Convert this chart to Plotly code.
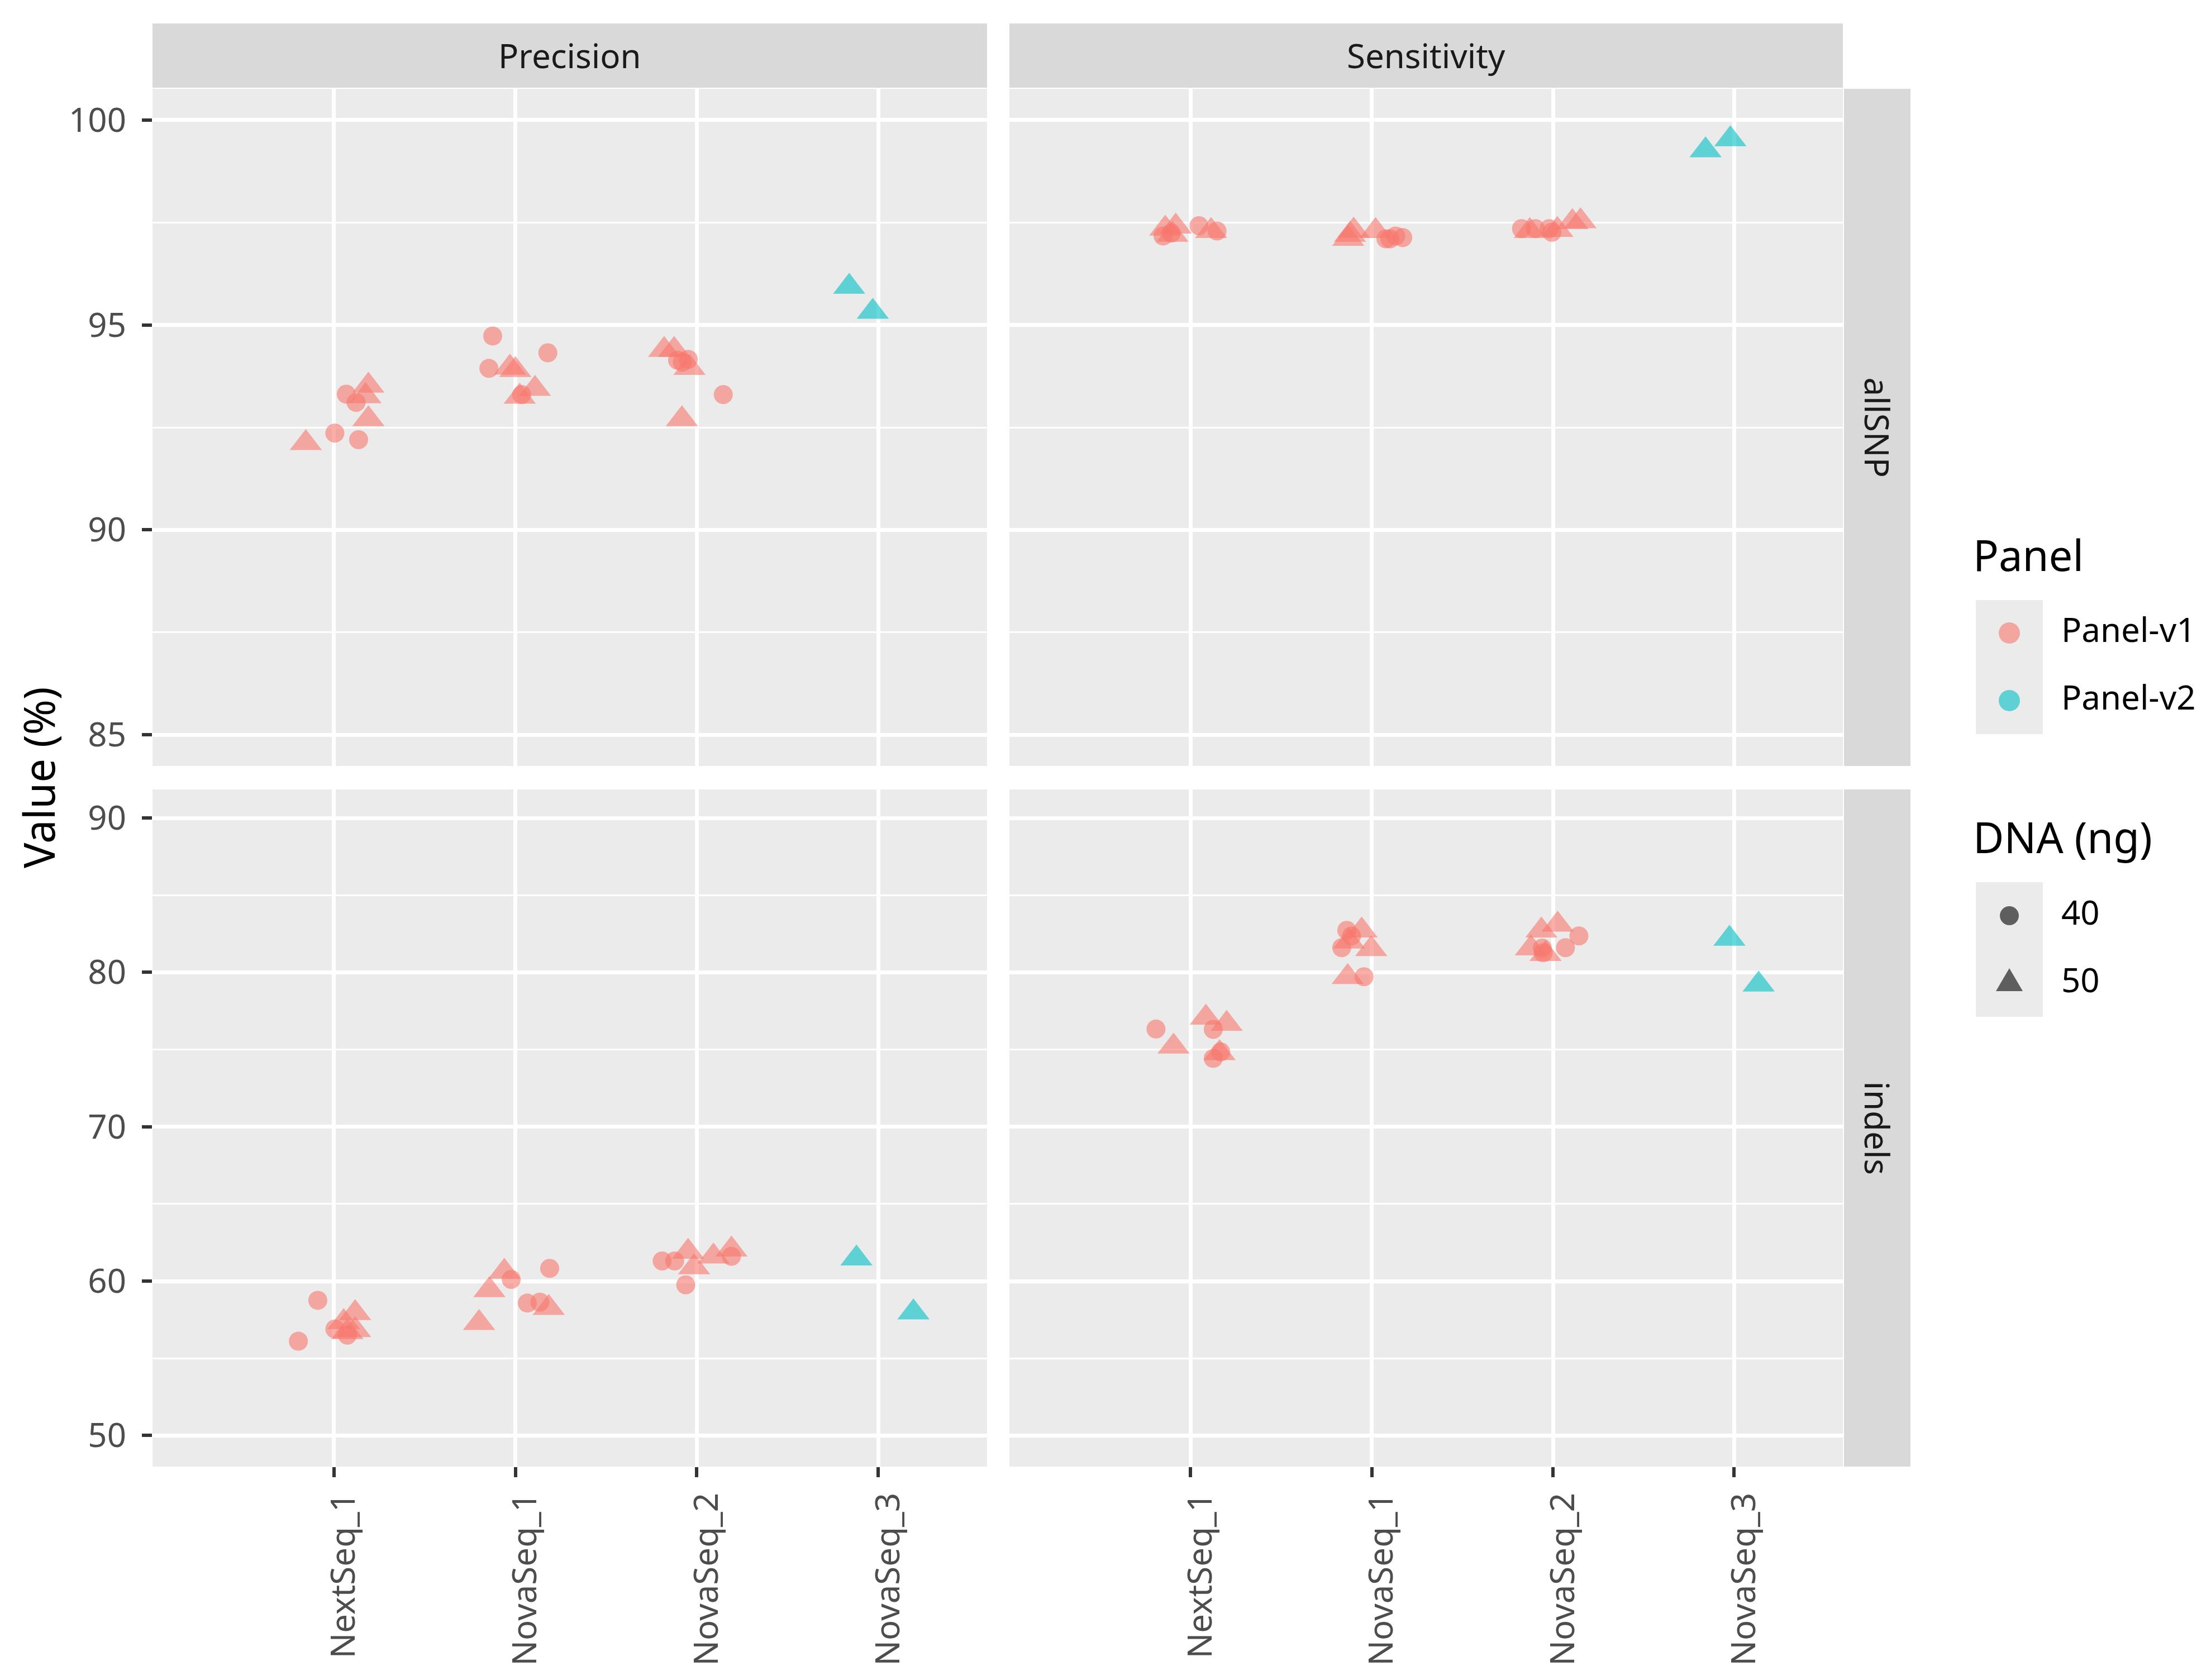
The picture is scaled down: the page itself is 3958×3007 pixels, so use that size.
import numpy as np
import plotly.graph_objects as go

# ---------------------------------------------------------------------------
# data
# ---------------------------------------------------------------------------
platforms = ["NextSeq_1", "NovaSeq_1", "NovaSeq_2", "NovaSeq_3"]
metrics = ["Precision", "Sensitivity"]
var_types = ["allSNP", "indels"]

# every facet has the same sample layout: per Panel-v1 run 4 x 40 ng then 4 x 50 ng,
# NovaSeq_3 only has two Panel-v2 samples at 50 ng
platform_idx = [0] * 8 + [1] * 8 + [2] * 8 + [3] * 2
dna_ng = ([40] * 4 + [50] * 4) * 3 + [50, 50]
panel = ["Panel-v1"] * 24 + ["Panel-v2"] * 2

# Precision / allSNP
prec_snp = [92.36, 93.31, 93.11, 92.20, 92.12, 93.52, 93.26, 92.70,
            94.73, 93.94, 94.32, 93.30, 93.96, 93.90, 93.25, 93.44,
            94.14, 94.16, 94.09, 93.30, 94.39, 94.39, 93.95, 92.70,
            95.93, 95.32]
prec_snp_jit = [0.005, 0.068, 0.122, 0.136, -0.155, 0.19, 0.174, 0.19,
                -0.125, -0.146, 0.179, 0.035, -0.03, 0.0, 0.024, 0.108,
                -0.106, -0.047, -0.08, 0.146, -0.18, -0.125, -0.04, -0.082,
                -0.16, -0.03]

# Sensitivity / allSNP
sens_snp = [97.17, 97.42, 97.29, 97.24, 97.35, 97.40, 97.29, 97.20,
            97.10, 97.17, 97.13, 97.10, 97.10, 97.30, 97.29, 97.20,
            97.35, 97.35, 97.35, 97.26, 97.29, 97.32, 97.51, 97.53,
            99.26, 99.53]
sens_snp_jit = [-0.152, 0.046, 0.146, -0.107, -0.14, -0.082, 0.113, -0.1,
                0.078, 0.132, 0.171, 0.1, -0.13, -0.1, 0.021, -0.12,
                -0.174, -0.097, -0.021, -0.006, -0.128, 0.024, 0.107, 0.152,
                -0.158, -0.021]

# Precision / indels
prec_ind = [56.11, 58.76, 56.90, 56.50, 57.93, 57.35, 56.83, 56.70,
            60.11, 60.83, 58.58, 58.64, 60.61, 59.42, 57.29, 58.27,
            61.31, 61.31, 59.76, 61.61, 61.90, 60.90, 61.60, 62.05,
            61.47, 57.98]
prec_ind_jit = [-0.196, -0.089, 0.005, 0.074, 0.117, 0.054, 0.117, 0.074,
                -0.023, 0.189, 0.066, 0.135, -0.061, -0.143, -0.2, 0.184,
                -0.191, -0.122, -0.061, 0.191, -0.048, -0.015, 0.092, 0.191,
                -0.12, 0.194]

# Sensitivity / indels
sens_ind = [76.33, 76.31, 74.85, 74.43, 75.19, 77.07, 76.67, 74.77,
            82.72, 82.36, 81.60, 79.72, 82.71, 82.00, 81.51, 79.70,
            82.36, 81.60, 81.57, 81.27, 82.71, 83.09, 81.55, 81.19,
            82.18, 79.21]
sens_ind_jit = [-0.191, 0.125, 0.166, 0.125, -0.094, 0.084, 0.199, 0.16,
                -0.138, -0.112, -0.166, -0.043, -0.056, -0.125, -0.003, -0.133,
                0.143, 0.069, -0.059, -0.054, -0.064, 0.026, -0.122, -0.041,
                -0.026, 0.135]

# ---------------------------------------------------------------------------
# styling
# ---------------------------------------------------------------------------
# the page body keeps its 8px margin, so the figure is 8px smaller and all
# pixel positions below are measured on the full 3958x3007 screenshot
PAD = 8
W, H = 3958 - PAD, 3007 - PAD
FONT = "Noto Sans"
SMALL, BIG = 60, 76
panel_colors = {"Panel-v1": "#F8766D", "Panel-v2": "#00BFC4"}
dna_symbols = {40: "circle", 50: "triangle-up"}
dna_sizes = {40: 34, 50: 50}


def px(x):
    return (x - PAD) / W


def py(y):
    return 1 - (y - PAD) / H


# facet -> (values, jitter, xaxis, yaxis)
facets = {
    ("Precision", "allSNP"): (prec_snp, prec_snp_jit, "x", "y"),
    ("Sensitivity", "allSNP"): (sens_snp, sens_snp_jit, "x2", "y2"),
    ("Precision", "indels"): (prec_ind, prec_ind_jit, "x3", "y3"),
    ("Sensitivity", "indels"): (sens_ind, sens_ind_jit, "x4", "y4"),
}

fig = go.Figure()

plat = np.array(platform_idx)
dna = np.array(dna_ng)
pan = np.array(panel)

for (metric, vt), (vals, jit, xa, ya) in facets.items():
    vals = np.array(vals)
    xpos = plat + 1 + np.array(jit)
    for p in ["Panel-v1", "Panel-v2"]:
        for d in [40, 50]:
            m = (pan == p) & (dna == d)
            if not m.any():
                continue
            fig.add_trace(go.Scatter(
                x=xpos[m], y=vals[m], mode="markers", xaxis=xa, yaxis=ya,
                name=f"{p} / {d} ng", showlegend=False,
                marker=dict(symbol=dna_symbols[d], size=dna_sizes[d],
                            color=panel_colors[p], opacity=0.6,
                            line=dict(width=0)),
            ))

# ---------------------------------------------------------------------------
# panel geometry (pixels of the 3958x3007 screenshot)
# ---------------------------------------------------------------------------
col_px = [(273, 1767), (1807, 3299)]
row_px = [(159, 1371), (1413, 2625)]
row_strip = (3301, 3420)
col_strip = (42, 157)

y_ranges = [[84.24, 100.76], [47.99, 91.85]]
y_major = [[85, 90, 95, 100], [50, 60, 70, 80, 90]]
y_minor = [[87.5, 92.5, 97.5], [55, 65, 75, 85]]

axis_names = [["", "2"], ["3", "4"]]
layout = {}
for r in range(2):
    for c in range(2):
        n = axis_names[r][c]
        bottom = r == 1
        left = c == 0
        layout["xaxis" + n] = dict(
            domain=[px(col_px[c][0]), px(col_px[c][1])],
            anchor="y" + n, range=[0.0, 4.6],
            tickmode="array", tickvals=[1, 2, 3, 4], ticktext=platforms,
            showticklabels=bottom, ticks="outside" if bottom else "",
            ticklen=18, tickwidth=6, tickcolor="#333333", tickangle=-90,
            ticklabelshift=18, ticklabelstandoff=4,
            tickfont=dict(family=FONT, size=SMALL, color="#4D4D4D"),
            showgrid=True, gridcolor="white", gridwidth=6.5,
            zeroline=False, showline=False,
        )
        layout["yaxis" + n] = dict(
            domain=[py(row_px[r][1]), py(row_px[r][0])],
            anchor="x" + n, range=y_ranges[r],
            tickmode="array", tickvals=y_major[r],
            showticklabels=left, ticks="outside" if left else "",
            ticklen=18, tickwidth=6, tickcolor="#333333",
            ticklabelstandoff=16,
            tickfont=dict(family=FONT, size=SMALL, color="#4D4D4D"),
            showgrid=True, gridcolor="white", gridwidth=6.5,
            minor=dict(tickmode="array", tickvals=y_minor[r], showgrid=True,
                       gridcolor="white", gridwidth=3.2, ticks=""),
            zeroline=False, showline=False,
        )

fig.update_layout(
    width=W, height=H, autosize=False,
    margin=dict(l=0, r=0, t=0, b=0),
    plot_bgcolor="#EBEBEB", paper_bgcolor="white",
    showlegend=False,
    font=dict(family=FONT, size=SMALL, color="#4D4D4D"),
    **layout,
)

shapes = []
annotations = []


def note(text, x, y, size, color, angle=0, xanchor="center"):
    annotations.append(dict(xref="paper", yref="paper", showarrow=False,
                            x=px(x), y=py(y), xanchor=xanchor, yanchor="middle",
                            text=text, textangle=angle,
                            font=dict(family=FONT, size=size, color=color)))


# facet strips
for c, metric in enumerate(metrics):
    shapes.append(dict(type="rect", xref="paper", yref="paper", layer="below",
                       x0=px(col_px[c][0]), x1=px(col_px[c][1]),
                       y0=py(col_strip[1]), y1=py(col_strip[0]),
                       fillcolor="#D9D9D9", line=dict(width=0)))
    note(metric, sum(col_px[c]) / 2, sum(col_strip) / 2, SMALL, "#1A1A1A")
for r, vt in enumerate(var_types):
    shapes.append(dict(type="rect", xref="paper", yref="paper", layer="below",
                       x0=px(row_strip[0]), x1=px(row_strip[1]),
                       y0=py(row_px[r][1]), y1=py(row_px[r][0]),
                       fillcolor="#D9D9D9", line=dict(width=0)))
    note(vt, sum(row_strip) / 2, sum(row_px[r]) / 2, SMALL, "#1A1A1A", angle=90)

# y axis title
note("Value (%)", 68, (row_px[0][0] + row_px[1][1]) / 2, BIG, "black", angle=-90)

# legends drawn the ggplot way: title, grey key column, glyph, label
key_x0, key_x1 = 3537, 3657
key_cx = (key_x0 + key_x1) / 2
lab_x = 3688


def key_box(y0, y1):
    shapes.append(dict(type="rect", xref="paper", yref="paper",
                       x0=px(key_x0), x1=px(key_x1), y0=py(y1), y1=py(y0),
                       fillcolor="#EBEBEB", line=dict(width=0)))


def key_circle(cy, rad, color):
    shapes.append(dict(type="circle", xref="paper", yref="paper",
                       x0=px(key_cx - rad), x1=px(key_cx + rad),
                       y0=py(cy + rad), y1=py(cy - rad),
                       fillcolor=color, opacity=0.6, line=dict(width=0)))


def key_triangle(cy, color):
    top, base, half = cy - 27, cy + 14, 24
    path = "M {} {} L {} {} L {} {} Z".format(px(key_cx), py(top),
                                              px(key_cx - half), py(base),
                                              px(key_cx + half), py(base))
    shapes.append(dict(type="path", xref="paper", yref="paper", path=path,
                       fillcolor=color, opacity=0.6, line=dict(width=0)))


# Panel (colour)
note("Panel", 3530, 992, BIG, "black", xanchor="left")
key_box(1074, 1314)
for i, p in enumerate(["Panel-v1", "Panel-v2"]):
    cy = 1133 + i * 121
    key_circle(cy, 19, panel_colors[p])
    note(p, lab_x, cy - 7, SMALL, "black", xanchor="left")

# DNA (shape)
note("DNA (ng)", 3530, 1497, BIG, "black", xanchor="left")
key_box(1579, 1820)
key_circle(1639, 17, "black")
note("40", lab_x, 1632, SMALL, "black", xanchor="left")
key_triangle(1760, "black")
note("50", lab_x, 1753, SMALL, "black", xanchor="left")

fig.update_layout(shapes=shapes, annotations=annotations)

fig.write_html("out.html")
